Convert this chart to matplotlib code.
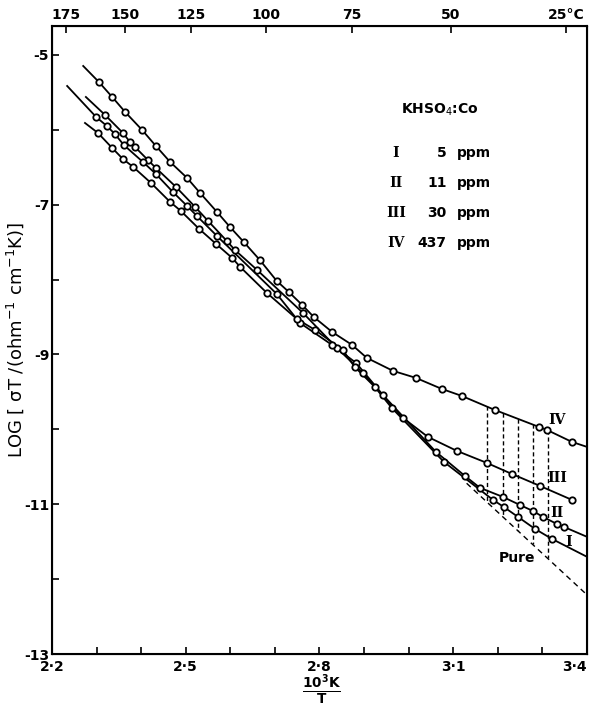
import numpy as np
import matplotlib
matplotlib.use("Agg")
import matplotlib.pyplot as plt

# x = 10^3 K / T, y = log(sigma T)
iv_x = [2.305, 2.335, 2.364, 2.402, 2.433, 2.465, 2.503, 2.532, 2.570, 2.599, 2.630,
        2.666, 2.704, 2.731, 2.761, 2.787, 2.828, 2.873, 2.906, 2.965, 3.016, 3.074,
        3.119, 3.193, 3.292, 3.310, 3.366]
iv_y = [-5.360, -5.561, -5.761, -6.001, -6.215, -6.429, -6.642, -6.842, -7.096, -7.296,
        -7.497, -7.737, -8.017, -8.164, -8.338, -8.498, -8.698, -8.872, -9.045, -9.219,
        -9.312, -9.459, -9.553, -9.740, -9.967, -10.007, -10.167]
iv_ends_x = [2.270, 3.400]
iv_ends_y = [-5.147, -10.234]

iii_x = [2.319, 2.359, 2.375, 2.386, 2.415, 2.433, 2.478, 2.521, 2.550, 2.592, 2.610,
         2.660, 2.763, 2.839, 2.897, 2.987, 3.043, 3.108, 3.175, 3.231, 3.294, 3.366]
iii_y = [-5.801, -6.041, -6.162, -6.228, -6.402, -6.509, -6.762, -7.029, -7.216, -7.483,
         -7.603, -7.871, -8.445, -8.912, -9.246, -9.846, -10.100, -10.287, -10.447,
         -10.594, -10.754, -10.941]
iii_ends_x = [2.276, 3.366]
iii_ends_y = [-5.561, -10.941]

ii_x = [2.299, 2.323, 2.341, 2.361, 2.404, 2.433, 2.471, 2.503, 2.525, 2.570, 2.704,
        2.756, 2.828, 2.882, 2.942, 3.061, 3.126, 3.160, 3.211, 3.249, 3.278, 3.301,
        3.332, 3.348]
ii_y = [-5.828, -5.948, -6.055, -6.202, -6.429, -6.589, -6.829, -7.016, -7.150, -7.417,
        -8.191, -8.578, -8.872, -9.112, -9.539, -10.300, -10.621, -10.781, -10.901,
        -11.008, -11.088, -11.168, -11.262, -11.302]
ii_ends_x = [2.234, 3.400]
ii_ends_y = [-5.414, -11.435]

i_x = [2.303, 2.335, 2.359, 2.382, 2.422, 2.465, 2.489, 2.530, 2.568, 2.604, 2.622,
       2.682, 2.749, 2.790, 2.852, 2.879, 2.924, 2.962, 3.079, 3.189, 3.213, 3.245,
       3.283, 3.321]
i_y = [-6.041, -6.242, -6.389, -6.495, -6.709, -6.963, -7.083, -7.323, -7.523, -7.710,
       -7.830, -8.178, -8.525, -8.672, -8.939, -9.166, -9.433, -9.713, -10.434, -10.941,
       -11.035, -11.168, -11.328, -11.462]
i_ends_x = [2.274, 3.400]
i_ends_y = [-5.908, -11.702]

pure_x = [3.130, 3.400]
pure_y = [-10.72, -12.21]

drop_x = [3.175, 3.211, 3.245, 3.278, 3.312]

x_ticks = [2.2, 2.5, 2.8, 3.1, 3.4]
x_tick_labels = ["2·2", "2·5", "2·8", "3·1", "3·4"]
y_ticks = [-5, -7, -9, -11, -13]
y_tick_labels = ["-5", "-7", "-9", "-11", "-13"]
temps_c = [175, 150, 125, 100, 75, 50, 25]
temp_labels = ["175", "150", "125", "100", "75", "50", "25°C"]

legend_num = ["I", "II", "III", "IV"]
legend_ppm = ["5", "11", "30", "437"]

fig = plt.figure(figsize=(5.95, 7.12), dpi=100)
ax = fig.add_axes([52 / 595, 58 / 712, 535 / 595, 628 / 712])

curves = [(iv_x, iv_y, iv_ends_x, iv_ends_y),
          (iii_x, iii_y, iii_ends_x, iii_ends_y),
          (ii_x, ii_y, ii_ends_x, ii_ends_y),
          (i_x, i_y, i_ends_x, i_ends_y)]
for cx, cy, ex, ey in curves:
    lx = [ex[0]] + cx + [ex[1]]
    ly = [ey[0]] + cy + [ey[1]]
    ax.plot(lx, ly, color="black", lw=1.3, zorder=2)
    ax.plot(cx, cy, "o", ms=4.6, mfc="white", mec="black", mew=1.3, zorder=3)

ax.plot(pure_x, pure_y, color="black", lw=1.0, ls=(0, (4, 3)), zorder=1)

# dashed drops from curve IV down to the pure-crystal line
iv_line_x = [iv_ends_x[0]] + iv_x + [iv_ends_x[1]]
iv_line_y = [iv_ends_y[0]] + iv_y + [iv_ends_y[1]]
for dx in drop_x:
    top = np.interp(dx, iv_line_x, iv_line_y)
    bot = np.interp(dx, pure_x, pure_y)
    ax.plot([dx, dx], [top, bot], color="black", lw=1.0, ls=(0, (3, 2)), zorder=1)

ax.set_xlim(2.2, 3.4)
ax.set_ylim(-13, -4.613)
ax.set_xticks(x_ticks)
ax.set_xticklabels(x_tick_labels, fontsize=10, fontweight="bold")
ax.get_xticklabels()[-1].set_horizontalalignment("right")
ax.set_xticks(np.arange(2.2, 3.41, 0.1), minor=True)
ax.set_yticks(y_ticks)
ax.set_yticklabels(y_tick_labels, fontsize=10, fontweight="bold")
ax.set_yticks([-6, -8, -10, -12], minor=True)
ax.tick_params(which="both", direction="in", length=5, width=1.2, top=False, right=False)
ax.tick_params(axis="x", pad=4)
ax.tick_params(axis="y", pad=2)
for s in ax.spines.values():
    s.set_linewidth(1.5)

ax2 = ax.twiny()
ax2.set_xlim(ax.get_xlim())
ax2.set_xticks([1000.0 / (t + 273.15) for t in temps_c])
ax2.set_xticklabels(temp_labels, fontsize=10, fontweight="bold")
ax2.tick_params(direction="in", length=5, width=1.2, pad=3)

ax.set_ylabel(r"LOG $\left[\ \mathrm{σT\ /(ohm^{-1}\ cm^{-1}K)}\right]$", fontsize=13)
ax.yaxis.set_label_coords(-0.048, 0.5)
fig.text(322 / 595, 1 - 690 / 712, r"$\mathbf{\frac{10^3K}{T}}$", fontsize=14,
         ha="center", va="center")

ax.text(0.725, 0.866, r"KHSO$_4$:Co", transform=ax.transAxes, fontsize=10,
        fontweight="bold", ha="center", va="center")
for k in range(4):
    yy = 0.798 - 0.048 * k
    ax.text(0.643, yy, legend_num[k], transform=ax.transAxes, fontsize=10,
            family="DejaVu Serif", fontweight="bold", ha="center", va="center")
    ax.text(0.738, yy, legend_ppm[k], transform=ax.transAxes, fontsize=10,
            fontweight="bold", ha="right", va="center")
    ax.text(0.757, yy, "ppm", transform=ax.transAxes, fontsize=10,
            fontweight="bold", ha="left", va="center")

ax.text(0.944, 0.372, "IV", transform=ax.transAxes, fontsize=10, family="DejaVu Serif",
        fontweight="bold", ha="center", va="center")
ax.text(0.944, 0.280, "III", transform=ax.transAxes, fontsize=10, family="DejaVu Serif",
        fontweight="bold", ha="center", va="center")
ax.text(0.944, 0.225, "II", transform=ax.transAxes, fontsize=10, family="DejaVu Serif",
        fontweight="bold", ha="center", va="center")
ax.text(0.966, 0.178, "I", transform=ax.transAxes, fontsize=10, family="DejaVu Serif",
        fontweight="bold", ha="center", va="center")
ax.text(0.869, 0.153, "Pure", transform=ax.transAxes, fontsize=10, fontweight="bold",
        ha="center", va="center")

fig.savefig("out.png", dpi=100)
